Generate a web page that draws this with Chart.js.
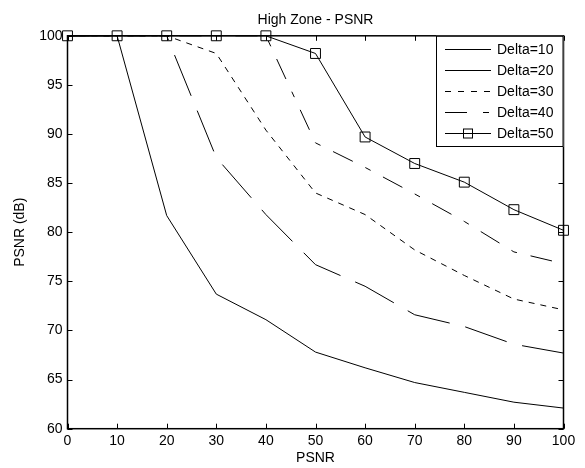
<!DOCTYPE html>
<html>
<head>
<meta charset="utf-8">
<script src="https://cdn.jsdelivr.net/npm/chart.js@4.4.0/dist/chart.umd.min.js"></script>
<style>
  html, body { margin: 0; padding: 0; background: #fff; }
</style>
</head>
<body>
<canvas id="psnr_chart" width="585" height="468"></canvas>
<script>
// x positions (PSNR) and one array per Delta curve
const xValues = [0, 10, 20, 30, 40, 50, 60, 70, 80, 90, 100];
const delta10 = [100, 100, 81.7, 73.7, 71.1, 67.8, 66.2, 64.7, 63.7, 62.7, 62.1];
const delta20 = [100, 100, 100, 87.6, 81.8, 76.7, 74.5, 71.6, 70.4, 68.6, 67.7];
const delta30 = [100, 100, 100, 98.2, 90.4, 84.0, 81.8, 78.2, 75.6, 73.2, 72.1];
const delta40 = [100, 100, 100, 100, 100, 89.1, 86.6, 83.9, 81.1, 78.0, 76.8];
const delta50 = [100, 100, 100, 100, 100, 98.2, 89.7, 87.0, 85.1, 82.3, 80.2];
const seriesLabels = ['Delta=10', 'Delta=20', 'Delta=30', 'Delta=40', 'Delta=50'];

const INK = '#000';
Chart.defaults.font.family = "'Liberation Sans', Arial, Helvetica, sans-serif";
Chart.defaults.font.size = 14;
Chart.defaults.color = INK;

const toPoints = (ys) => ys.map((y, i) => ({ x: xValues[i], y: y }));

const line = (label, ys, dash, legendDash, extra) => Object.assign({
  label: label,
  data: toPoints(ys),
  borderColor: INK,
  borderWidth: 1,
  borderDash: dash,
  legendDash: legendDash,
  pointRadius: 0,
  fill: false,
  tension: 0,
  clip: false
}, extra || {});

// matlab-ish axes box with inward ticks + boxed legend
const matlabAxes = {
  id: 'matlabAxes',
  afterDatasetsDraw(chart) {
    const { ctx, chartArea: a, scales } = chart;
    ctx.save();
    ctx.strokeStyle = INK;
    ctx.lineWidth = 1;
    ctx.beginPath();
    scales.x.ticks.forEach(t => {
      const px = Math.round(scales.x.getPixelForValue(t.value)) + 0.5;
      ctx.moveTo(px, a.bottom); ctx.lineTo(px, a.bottom - 5);
      ctx.moveTo(px, a.top); ctx.lineTo(px, a.top + 5);
    });
    scales.y.ticks.forEach(t => {
      const py = Math.round(scales.y.getPixelForValue(t.value)) + 0.5;
      ctx.moveTo(a.left, py); ctx.lineTo(a.left + 5, py);
      ctx.moveTo(a.right, py); ctx.lineTo(a.right - 5, py);
    });
    ctx.stroke();
    ctx.lineWidth = 1.5;
    ctx.strokeRect(a.left, a.top, a.right - a.left, a.bottom - a.top);
    ctx.restore();
  },
  afterDraw(chart) {
    const { ctx, chartArea: a } = chart;
    const box = { left: 436, top: a.top, right: a.right, bottom: 147 };
    ctx.save();
    ctx.fillStyle = '#fff';
    ctx.fillRect(box.left, box.top, box.right - box.left, box.bottom - box.top);
    ctx.strokeStyle = INK;
    ctx.lineWidth = 1;
    ctx.strokeRect(box.left + 0.5, box.top + 0.5, box.right - box.left - 1, box.bottom - box.top - 1);

    ctx.font = "14px 'Liberation Sans', Arial, sans-serif";
    ctx.textBaseline = 'middle';
    ctx.fillStyle = INK;
    chart.data.datasets.forEach((ds, i) => {
      const y = Math.round(box.top + 13.5 + i * 21) + 0.5;
      ctx.setLineDash(ds.legendDash);
      ctx.beginPath();
      ctx.moveTo(445, y); ctx.lineTo(491, y);
      ctx.stroke();
      ctx.setLineDash([]);
      if (ds.pointStyle === 'rect') {
        ctx.strokeRect(463.5, y - 4.5, 9, 9);
      }
      ctx.fillText(ds.label, 497, y + 1);
    });
    ctx.restore();
  }
};

new Chart('psnr_chart', {
  type: 'line',
  plugins: [matlabAxes],
  data: {
    datasets: [
      line(seriesLabels[0], delta10, [], []),
      line(seriesLabels[1], delta20, [44, 16], []),
      line(seriesLabels[2], delta30, [6, 6], [6, 7]),
      line(seriesLabels[3], delta40, [22, 14, 6, 14], [22, 16, 6, 16]),
      line(seriesLabels[4], delta50, [], [], {
        pointStyle: 'rect',
        pointRadius: 7,
        pointBorderWidth: 1,
        pointBorderColor: INK,
        pointBackgroundColor: 'rgba(0,0,0,0)'
      })
    ]
  },
  options: {
    responsive: false,
    animation: false,
    events: [],
    layout: { padding: { left: 4, right: 21.5, top: 0, bottom: 0 } },
    plugins: {
      legend: { display: false },
      tooltip: { enabled: false },
      title: {
        display: true,
        text: 'High Zone - PSNR',
        fullSize: false,
        font: { size: 14, weight: 'normal' },
        color: INK,
        padding: { top: 12, bottom: 7 }
      }
    },
    scales: {
      x: {
        type: 'linear',
        min: 0,
        max: 100,
        grid: { display: false, drawTicks: false },
        border: { display: false },
        ticks: { stepSize: 10, padding: 4, maxRotation: 0, autoSkip: false, color: INK },
        title: { display: true, text: 'PSNR', color: INK, padding: { top: 0, bottom: 1 } },
        afterFit: (s) => { s.height = 39.3; }
      },
      y: {
        min: 60,
        max: 100,
        grid: { display: false, drawTicks: false },
        border: { display: false },
        ticks: { stepSize: 5, padding: 5, color: INK },
        title: { display: true, text: 'PSNR (dB)', color: INK, padding: { top: 8, bottom: 0 } },
        afterFit: (s) => { s.width = 63.5; }
      }
    }
  }
});
</script>
</body>
</html>
